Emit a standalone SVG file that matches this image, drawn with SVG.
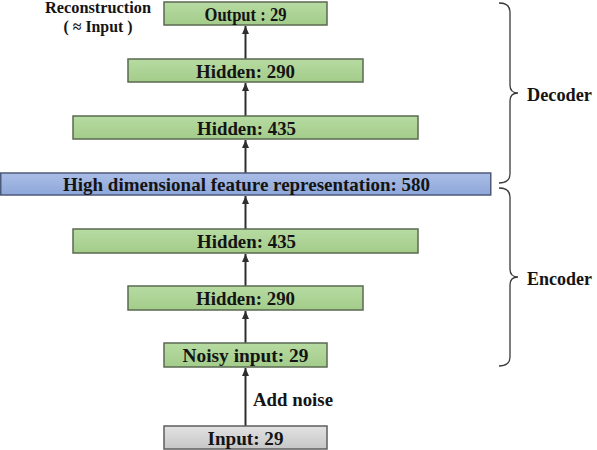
<svg xmlns="http://www.w3.org/2000/svg" width="597" height="450" viewBox="0 0 597 450">
  <style>
    .lbl { font-family: "Liberation Serif", "Times New Roman", serif; font-weight: bold; fill: #141414; font-size: 19px; text-anchor: middle; }
    .side { font-family: "Liberation Serif", "Times New Roman", serif; font-weight: bold; fill: #141414; font-size: 19px; }
    .green { fill: url(#gGreen); stroke: #5a6a50; stroke-width: 1.5; }
    .blue { fill: url(#gBlue); stroke: #4c5a7a; stroke-width: 1.5; }
    .gray { fill: url(#gGray); stroke: #5e5e5e; stroke-width: 1.5; }
    .conn { stroke: #2e2e2e; stroke-width: 2; fill: none; marker-end: url(#arr); }
    .brace { stroke: #3a3a3a; stroke-width: 1.3; fill: none; }
  </style>
  <defs>
    <linearGradient id="gGreen" x1="0" y1="0" x2="0" y2="1">
      <stop offset="0" stop-color="#b7dba2"/>
      <stop offset="1" stop-color="#a3cc8a"/>
    </linearGradient>
    <linearGradient id="gBlue" x1="0" y1="0" x2="0" y2="1">
      <stop offset="0" stop-color="#aabde6"/>
      <stop offset="1" stop-color="#8ea7da"/>
    </linearGradient>
    <linearGradient id="gGray" x1="0" y1="0" x2="0" y2="1">
      <stop offset="0" stop-color="#e2e2e2"/>
      <stop offset="1" stop-color="#c6c6c6"/>
    </linearGradient>
    <marker id="arr" markerUnits="userSpaceOnUse" markerWidth="8" markerHeight="8" refX="8" refY="3.5" orient="auto">
      <path d="M0,0 L8,3.5 L0,7 z" fill="#2e2e2e"/>
    </marker>
  </defs>

  <g id="connectors">
    <line class="conn" x1="245.5" y1="426" x2="245.5" y2="368"/>
    <line class="conn" x1="245.5" y1="343" x2="245.5" y2="311"/>
    <line class="conn" x1="245.5" y1="286" x2="245.5" y2="254"/>
    <line class="conn" x1="245.5" y1="229" x2="245.5" y2="196"/>
    <line class="conn" x1="245.5" y1="173" x2="245.5" y2="140"/>
    <line class="conn" x1="245.5" y1="116" x2="245.5" y2="83"/>
    <line class="conn" x1="245.5" y1="59" x2="245.5" y2="26"/>
  </g>

  <g id="output">
    <rect class="green" x="164" y="2" width="163" height="23"/>
    <text class="lbl" x="245.5" y="21" textLength="82" lengthAdjust="spacingAndGlyphs">Output : 29</text>
  </g>
  <g id="dec-hidden-290">
    <rect class="green" x="128" y="59" width="235" height="23"/>
    <text class="lbl" x="245.5" y="78" textLength="99" lengthAdjust="spacingAndGlyphs">Hidden: 290</text>
  </g>
  <g id="dec-hidden-435">
    <rect class="green" x="73" y="116" width="345" height="23"/>
    <text class="lbl" x="246.5" y="135" textLength="99" lengthAdjust="spacingAndGlyphs">Hidden: 435</text>
  </g>
  <g id="feature">
    <rect class="blue" x="0.75" y="173" width="490" height="22"/>
    <text class="lbl" x="246.5" y="191" textLength="367" lengthAdjust="spacingAndGlyphs">High dimensional feature representation: 580</text>
  </g>
  <g id="enc-hidden-435">
    <rect class="green" x="73" y="229" width="345" height="24"/>
    <text class="lbl" x="246.5" y="248" textLength="99" lengthAdjust="spacingAndGlyphs">Hidden: 435</text>
  </g>
  <g id="enc-hidden-290">
    <rect class="green" x="128" y="286" width="235" height="24"/>
    <text class="lbl" x="245.5" y="305" textLength="99" lengthAdjust="spacingAndGlyphs">Hidden: 290</text>
  </g>
  <g id="noisy-input">
    <rect class="green" x="164" y="343" width="163" height="24"/>
    <text class="lbl" x="245.5" y="362" textLength="126" lengthAdjust="spacingAndGlyphs">Noisy input: 29</text>
  </g>
  <g id="input">
    <rect class="gray" x="164" y="426" width="163" height="23"/>
    <text class="lbl" x="245.5" y="445" textLength="76" lengthAdjust="spacingAndGlyphs">Input: 29</text>
  </g>

  <g id="labels">
    <text class="lbl" x="98" y="13" style="font-size:16px" textLength="106" lengthAdjust="spacingAndGlyphs">Reconstruction</text>
    <text class="lbl" x="98" y="32" style="font-size:16px" textLength="69" lengthAdjust="spacingAndGlyphs">( ≈ Input )</text>
    <text class="side" x="253" y="406" textLength="80" lengthAdjust="spacingAndGlyphs">Add noise</text>
  </g>

  <g id="decoder-brace">
    <path class="brace" d="M499,3 Q510,3 510,12 L510,85 Q510,93 518,93 Q510,93 510,101 L510,174 Q510,183 499,183"/>
    <text class="side" x="527" y="101" textLength="65" lengthAdjust="spacingAndGlyphs">Decoder</text>
  </g>
  <g id="encoder-brace">
    <path class="brace" d="M499,188 Q510,188 510,197 L510,269 Q510,277 518,277 Q510,277 510,285 L510,357 Q510,366 499,366"/>
    <text class="side" x="527" y="285" textLength="65" lengthAdjust="spacingAndGlyphs">Encoder</text>
  </g>
</svg>
